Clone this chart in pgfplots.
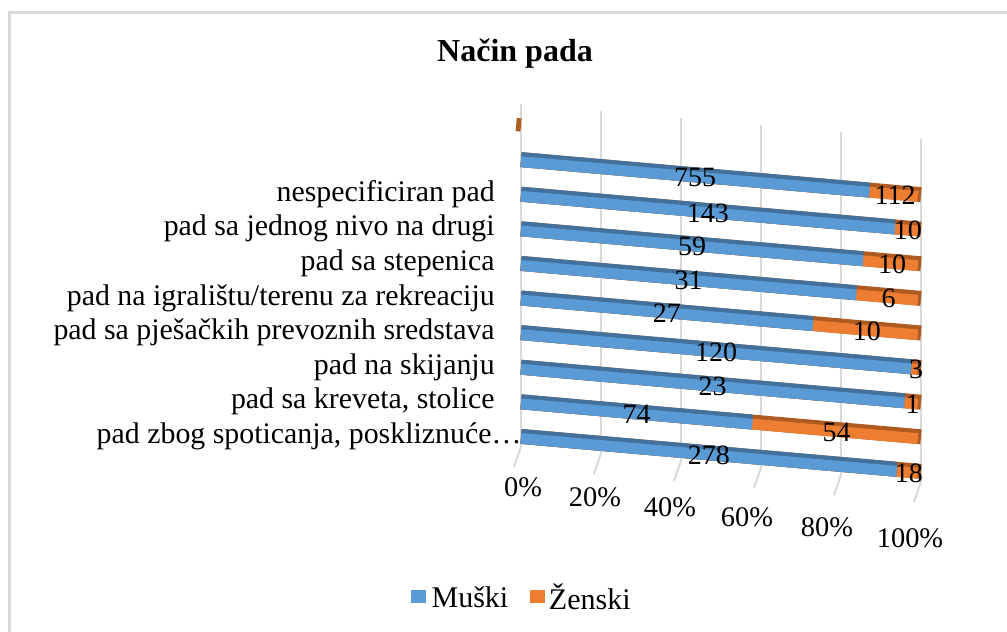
\documentclass[border=0pt]{standalone}
\usepackage{pgfplots}
\pgfplotsset{compat=1.18}
\usepackage{pgfplotstable}
\usepackage{fontspec}
\setmainfont{Liberation Serif}
\definecolor{mblue}{HTML}{5B9BD5}
\definecolor{mbluedark}{HTML}{41719C}
\definecolor{zor}{HTML}{ED7D31}
\definecolor{zordark}{HTML}{AE5A21}
\definecolor{gridgray}{HTML}{D9D9D9}
\pgfplotstableread{
row m z
0 278 18
1 74 54
2 23 1
3 120 3
4 27 10
5 31 6
6 59 10
7 143 10
8 755 112
}\pad
\pgfplotstableread{
x y t
0.5 -1.46 0
18.5 -1.56 20
37.25 -1.66 40
56.5 -1.76 60
76.5 -1.84 80
97.25 -1.95 100
}\ticklab
\begin{document}
\begin{tikzpicture}
\useasboundingbox (0,0) rectangle (755.25pt,474pt);
\fill[white] (0,0) rectangle (755.25pt,474pt);
\draw[gridgray, line width=2.25pt] (7.1pt,0) -- (7.1pt,464.6pt) -- (755.25pt,464.6pt);
\node[anchor=base, font=\bfseries\fontsize{24}{28}\selectfont] at (386.25pt,427.5pt) {Način pada};
\begin{axis}[
  anchor=origin, at={(390.75pt,146.7pt)},
  x={(3pt,-0.2625pt)}, y={(0pt,25.95pt)},
  xmin=0, xmax=100, ymin=-0.3, ymax=9.6,
  clip=false,
  axis line style={draw=none},
  major tick length=0pt,
  xtick={0,20,...,100}, xticklabels={},
  xmajorgrids, grid style={gridgray, line width=1.5pt},
  ytick={0,...,7},
  yticklabels={{pad zbog spoticanja, poskliznuće…\kern-20pt},{pad sa kreveta, stolice},{pad na skijanju},{pad sa pješačkih prevoznih sredstava},{pad na igralištu/terenu za rekreaciju},{pad sa stepenica},{pad sa jednog nivo na drugi},{nespecificiran pad}},
  yticklabel style={anchor=east, inner sep=0pt, xshift=-19.5pt, font=\fontsize{22.4}{26}\selectfont},
  /pgf/number format/assume math mode=true,
]
\addplot[gridgray, line width=1.5pt] coordinates {(0,-0.3) (-1.75,-0.9)};
\addplot[gridgray, line width=1.5pt] coordinates {(20,-0.3) (18.25,-0.9)};
\addplot[gridgray, line width=1.5pt] coordinates {(40,-0.3) (38.25,-0.9)};
\addplot[gridgray, line width=1.5pt] coordinates {(60,-0.3) (58.25,-0.9)};
\addplot[gridgray, line width=1.5pt] coordinates {(80,-0.3) (78.25,-0.9)};
\addplot[gridgray, line width=1.5pt] coordinates {(100,-0.3) (98.25,-0.9)};
% orange (Zenski) segments: drawn full width, blue drawn over them
\addplot[quiver={u=100, v=0}, mark=none, line width=11.2pt, line cap=butt, zordark] table[x expr=0, y=row]{\pad};
\addplot[quiver={u=99.2, v=0}, mark=none, line width=8.1pt, line cap=butt, zor] table[x expr=0, y expr={\thisrow{row}-0.06}]{\pad};
\addplot[quiver={u={100*\thisrow{m}/(\thisrow{m}+\thisrow{z})}, v=0}, mark=none, line width=11.2pt, line cap=butt, mbluedark] table[x expr=0, y=row]{\pad};
\addplot[quiver={u={100*\thisrow{m}/(\thisrow{m}+\thisrow{z})}, v=0}, mark=none, line width=8.1pt, line cap=butt, mblue] table[x expr=0, y expr={\thisrow{row}-0.06}]{\pad};
\addplot[zordark, line width=9.9pt, line cap=butt] coordinates {(-1.2,9) (0,9)};
% value labels
\addplot[draw=none, mark=none, nodes near coords, point meta=explicit,
  nodes near coords style={anchor=center, yshift=-2pt, font=\fontsize{21}{25}\selectfont, text=black}]
  table[x expr={50*\thisrow{m}/(\thisrow{m}+\thisrow{z})}, y=row, meta=m]{\pad};
\addplot[draw=none, mark=none, nodes near coords, point meta=explicit,
  nodes near coords style={anchor=center, yshift=-2pt, font=\fontsize{21}{25}\selectfont, text=black}]
  table[x expr={50+50*\thisrow{m}/(\thisrow{m}+\thisrow{z})}, y=row, meta=z]{\pad};
% x tick labels on the floor
\addplot[draw=none, mark=none, nodes near coords={\pgfmathprintnumber{\pgfplotspointmeta}\%}, point meta=explicit,
  nodes near coords style={anchor=center, font=\fontsize{21.3}{25}\selectfont, text=black}]
  table[x=x, y=y, meta=t]{\ticklab};
\end{axis}
\fill[mblue] (308.5pt,21.9pt) rectangle (319.5pt,31.4pt);
\node[anchor=west, inner sep=0pt, font=\fontsize{22.5}{26}\selectfont] at (323.5pt,26.4pt) {Muški};
\fill[zor] (397.5pt,21.9pt) rectangle (408.5pt,31.4pt);
\node[anchor=west, inner sep=0pt, font=\fontsize{22.5}{26}\selectfont] at (411.5pt,26.4pt) {Ženski};
\end{tikzpicture}
\end{document}
